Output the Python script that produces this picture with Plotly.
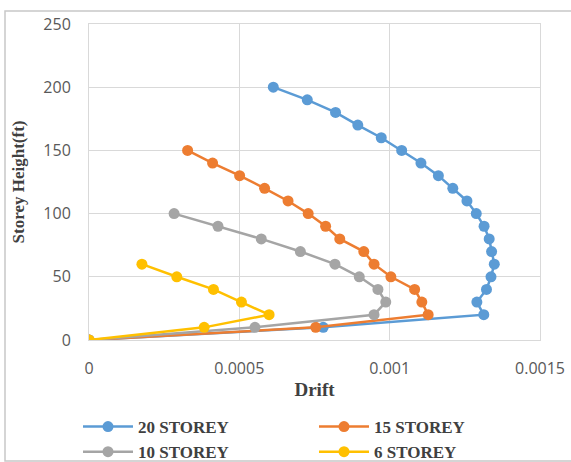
import plotly.graph_objects as go

heights_20 = [0, 10, 20, 30, 40, 50, 60, 70, 80, 90, 100, 110, 120, 130, 140, 150, 160, 170, 180, 190, 200]
drift_20 = [0, 0.000779, 0.001313, 0.00129, 0.001322, 0.001337, 0.001348, 0.001339, 0.001331, 0.001314,
            0.001288, 0.001257, 0.00121, 0.001162, 0.001104, 0.00104, 0.000972, 0.000894, 0.00082, 0.000726, 0.000613]

heights_15 = [0, 10, 20, 30, 40, 50, 60, 70, 80, 90, 100, 110, 120, 130, 140, 150]
drift_15 = [0, 0.000754, 0.001128, 0.001107, 0.001083, 0.001004, 0.000948, 0.000914, 0.000834, 0.000787,
            0.000729, 0.000662, 0.000584, 0.000501, 0.000411, 0.000328]

heights_10 = [0, 10, 20, 30, 40, 50, 60, 70, 80, 90, 100]
drift_10 = [0, 0.000552, 0.000948, 0.000987, 0.000961, 0.000899, 0.000818, 0.000703, 0.000573, 0.000429, 0.000283]

heights_6 = [0, 10, 20, 30, 40, 50, 60]
drift_6 = [0, 0.000383, 0.000599, 0.000507, 0.000414, 0.000292, 0.000176]

series_names = ["20 STOREY", "15 STOREY", "10 STOREY", "6 STOREY"]
series_colors = ["#5B9BD5", "#ED7D31", "#A5A5A5", "#FFC000"]

x_ticks = [0, 0.0005, 0.001, 0.0015]
x_tick_labels = ["0", "0.0005", "0.001", "0.0015"]
y_ticks = [0, 50, 100, 150, 200, 250]

fig = go.Figure()
for name, xs, ys, col in zip(series_names,
                             [drift_20, drift_15, drift_10, drift_6],
                             [heights_20, heights_15, heights_10, heights_6],
                             series_colors):
    fig.add_trace(go.Scatter(
        x=xs, y=ys, name=name, mode="lines+markers",
        line=dict(color=col, width=2.5),
        marker=dict(color=col, size=11),
    ))

W, H = 571, 462
L, R, T, B = 89, 31, 24, 122
pw, ph = W - L - R, H - T - B

def px_x(p):
    return (p - L) / pw

def px_y(p):
    return (H - B - p) / ph

fig.update_layout(
    width=W, height=H,
    margin=dict(l=L, r=R, t=T, b=B, autoexpand=False),
    paper_bgcolor="white", plot_bgcolor="white",
    showlegend=True,
    legend=dict(
        orientation="h", xref="paper", yref="paper",
        x=px_x(78), y=px_y(409), xanchor="left", yanchor="top",
        entrywidth=171, entrywidthmode="pixels",
        font=dict(family="Liberation Serif", size=17, color="#404040", weight="bold"),
        itemwidth=50, tracegroupgap=0,
        bgcolor="rgba(0,0,0,0)",
    ),
    xaxis=dict(
        range=[0, 0.0015], tickvals=x_ticks, ticktext=x_tick_labels,
        showgrid=True, gridcolor="#D9D9D9", gridwidth=1,
        zeroline=False, showline=True, linecolor="#D9D9D9", mirror=True,
        ticks="", tickfont=dict(family="Open Sans", size=16, color="#595959"),
        ticklabelstandoff=14,
        automargin=False,
        title=dict(text="<b>Drift</b>", font=dict(family="Liberation Serif", size=19, color="#404040"), standoff=4),
    ),
    yaxis=dict(
        range=[0, 250], tickvals=y_ticks,
        showgrid=True, gridcolor="#D9D9D9", gridwidth=1,
        zeroline=False, showline=True, linecolor="#D9D9D9", mirror=True,
        ticks="", tickfont=dict(family="Open Sans", size=16, color="#595959"),
        ticklabelstandoff=14,
        automargin=False,
        title=dict(text="<b>Storey Height(ft)</b>", font=dict(family="Liberation Serif", size=17, color="#404040"), standoff=14),
    ),
    shapes=[dict(
        type="rect", xref="paper", yref="paper",
        x0=px_x(5), x1=px_x(575), y0=px_y(461), y1=px_y(11),
        line=dict(color="#C8C8C8", width=1.5), fillcolor="rgba(0,0,0,0)", layer="below",
    )],
)

fig.write_html("out.html", config={"displayModeBar": False},
               post_script="document.body.style.margin='0px';document.body.style.overflow='hidden';")
